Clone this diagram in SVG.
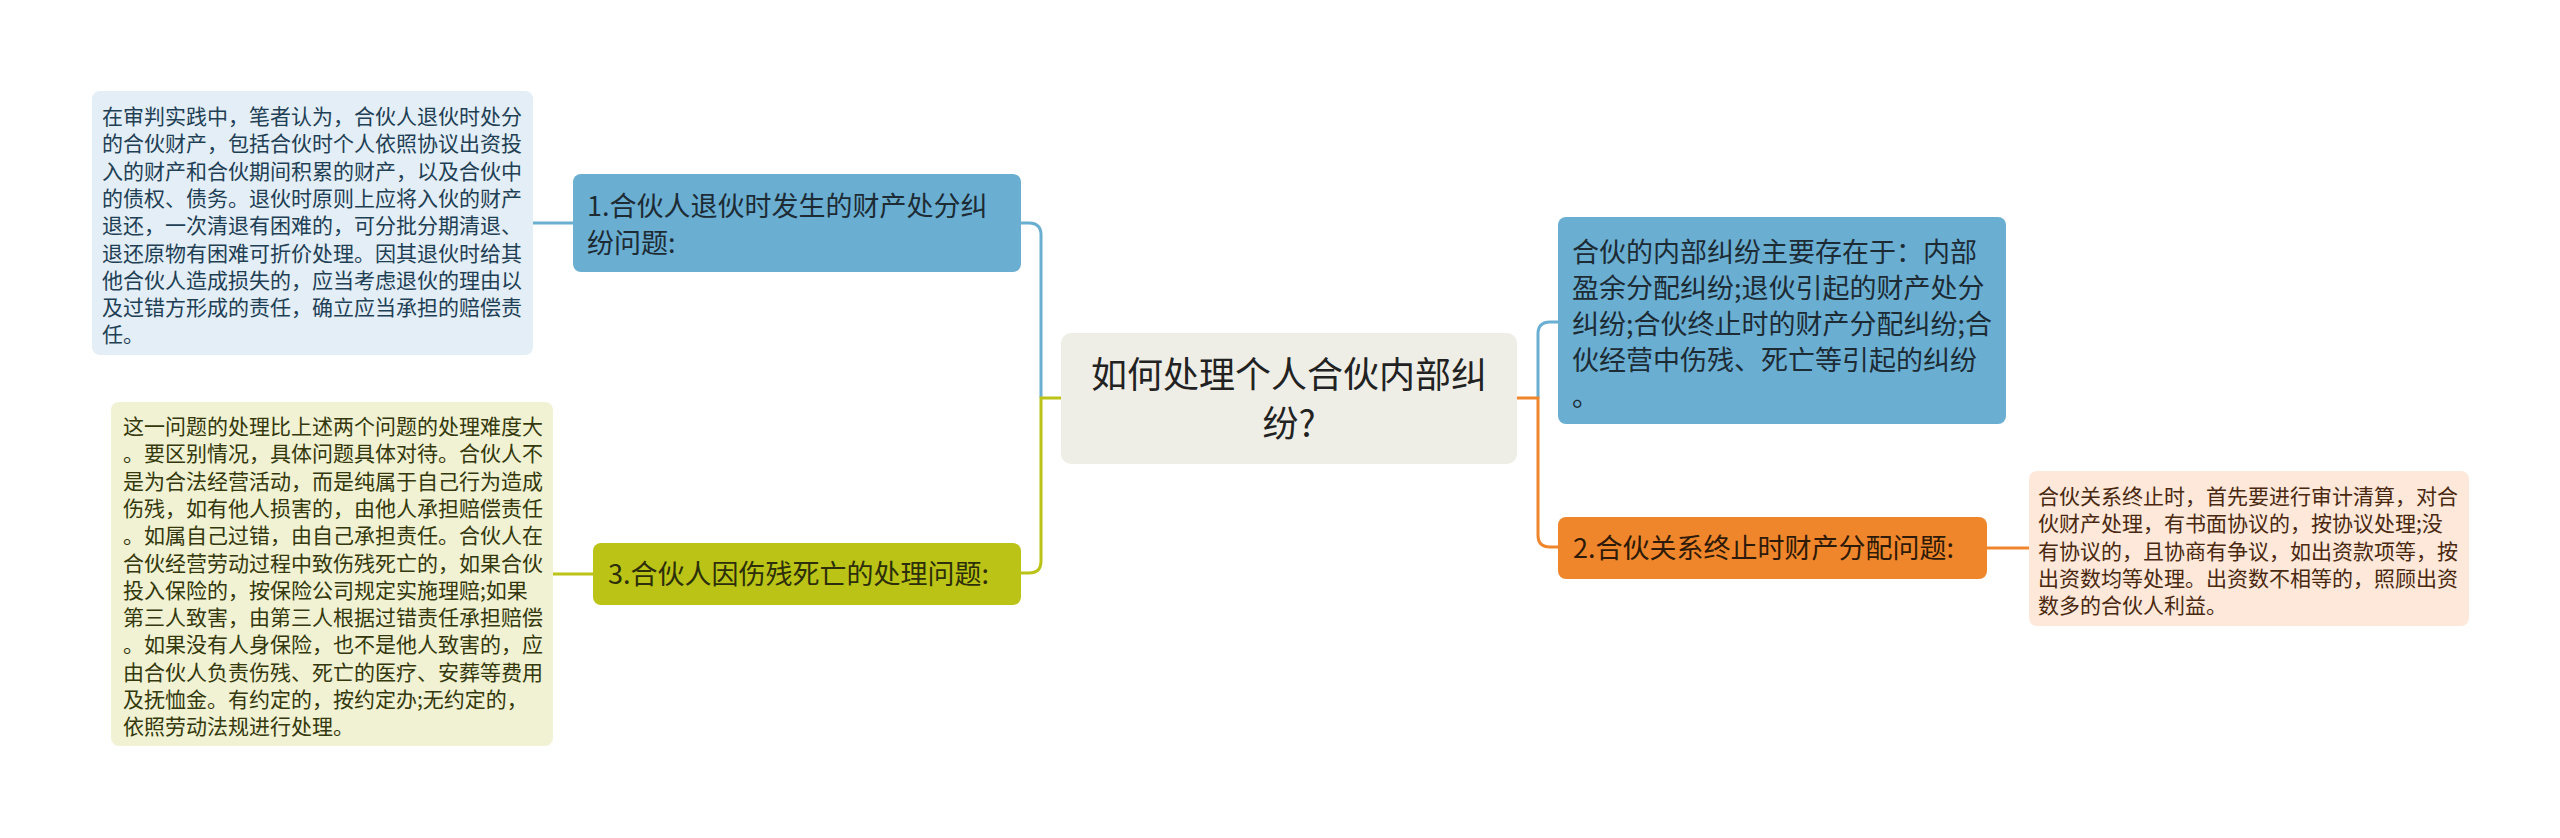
<svg xmlns="http://www.w3.org/2000/svg" width="2560" height="838" viewBox="0 0 2560 838">
<style>
text{font-family:"Noto Sans CJK SC","Noto Sans",sans-serif}
.leaf{font-size:21px}
.node{font-size:27px}
.c{fill:none;stroke-width:3;stroke-linecap:butt}
</style>
<rect width="2560" height="838" fill="#ffffff"/>
<g id="connectors">
<path class="c" stroke="#6aafd2" d="M1021,223 H1029 Q1041,223 1041,235 V398"/>
<path class="c" stroke="#bbc316" d="M1061,398 H1041 V561 Q1041,573 1029,573 H1021"/>
<path class="c" stroke="#6aafd2" d="M1538,398 V334 Q1538,322 1550,322 H1558"/>
<path class="c" stroke="#f0862b" d="M1517,398 H1538 V535 Q1538,547 1550,547 H1558"/>
<path class="c" stroke="#6aafd2" d="M573,223 H533"/>
<path class="c" stroke="#bbc316" d="M593,574 H553"/>
<path class="c" stroke="#f0862b" d="M1987,548 H2029"/>
</g>
<g id="central">
<rect x="1061" y="333" width="456" height="131" rx="10" fill="#eeeee6"/>
<text x="1289" y="388" font-size="36" text-anchor="middle" fill="#222222">如何处理个人合伙内部纠</text>
<text x="1289" y="437" font-size="36" text-anchor="middle" fill="#222222">纷?</text>
</g>
<g id="node1">
<rect x="573" y="174" width="448" height="98" rx="8" fill="#6aafd2"/>
<text class="node" x="587" y="216" fill="#1d2b35">1.合伙人退伙时发生的财产处分纠</text>
<text class="node" x="587" y="253" fill="#1d2b35">纷问题:</text>
</g>
<g id="leaf1">
<rect x="92" y="91" width="441" height="264" rx="8" fill="#e3eef6"/>
<text class="leaf" x="102" y="124" fill="#1f3f55">
<tspan x="102" dy="0">在审判实践中，笔者认为，合伙人退伙时处分</tspan>
<tspan x="102" dy="27.3">的合伙财产，包括合伙时个人依照协议出资投</tspan>
<tspan x="102" dy="27.3">入的财产和合伙期间积累的财产，以及合伙中</tspan>
<tspan x="102" dy="27.3">的债权、债务。退伙时原则上应将入伙的财产</tspan>
<tspan x="102" dy="27.3">退还，一次清退有困难的，可分批分期清退、</tspan>
<tspan x="102" dy="27.3">退还原物有困难可折价处理。因其退伙时给其</tspan>
<tspan x="102" dy="27.3">他合伙人造成损失的，应当考虑退伙的理由以</tspan>
<tspan x="102" dy="27.3">及过错方形成的责任，确立应当承担的赔偿责</tspan>
<tspan x="102" dy="27.3">任。</tspan>
</text>
</g>
<g id="node3">
<rect x="593" y="543" width="428" height="62" rx="8" fill="#bbc316"/>
<text class="node" x="608" y="584" fill="#2c2f0a">3.合伙人因伤残死亡的处理问题:</text>
</g>
<g id="leaf3">
<rect x="111" y="402" width="442" height="344" rx="8" fill="#f0f2d3"/>
<text class="leaf" x="123" y="434" fill="#34380c">
<tspan x="123" dy="0">这一问题的处理比上述两个问题的处理难度大</tspan>
<tspan x="123" dy="27.3">。要区别情况，具体问题具体对待。合伙人不</tspan>
<tspan x="123" dy="27.3">是为合法经营活动，而是纯属于自己行为造成</tspan>
<tspan x="123" dy="27.3">伤残，如有他人损害的，由他人承担赔偿责任</tspan>
<tspan x="123" dy="27.3">。如属自己过错，由自己承担责任。合伙人在</tspan>
<tspan x="123" dy="27.3">合伙经营劳动过程中致伤残死亡的，如果合伙</tspan>
<tspan x="123" dy="27.3">投入保险的，按保险公司规定实施理赔;如果</tspan>
<tspan x="123" dy="27.3">第三人致害，由第三人根据过错责任承担赔偿</tspan>
<tspan x="123" dy="27.3">。如果没有人身保险，也不是他人致害的，应</tspan>
<tspan x="123" dy="27.3">由合伙人负责伤残、死亡的医疗、安葬等费用</tspan>
<tspan x="123" dy="27.3">及抚恤金。有约定的，按约定办;无约定的，</tspan>
<tspan x="123" dy="27.3">依照劳动法规进行处理。</tspan>
</text>
</g>
<g id="nodeR1">
<rect x="1558" y="217" width="448" height="207" rx="8" fill="#6aafd2"/>
<text class="node" x="1572" y="262" fill="#1d2b35">
<tspan x="1572" dy="0">合伙的内部纠纷主要存在于：内部</tspan>
<tspan x="1572" dy="36.1">盈余分配纠纷;退伙引起的财产处分</tspan>
<tspan x="1572" dy="36.1">纠纷;合伙终止时的财产分配纠纷;合</tspan>
<tspan x="1572" dy="36.1">伙经营中伤残、死亡等引起的纠纷</tspan>
<tspan x="1572" dy="36.1">。</tspan>
</text>
</g>
<g id="nodeR2">
<rect x="1558" y="517" width="429" height="62" rx="8" fill="#f0862b"/>
<text class="node" x="1573" y="558" fill="#2e1a08">2.合伙关系终止时财产分配问题:</text>
</g>
<g id="leafR2">
<rect x="2029" y="471" width="440" height="155" rx="8" fill="#fde8da"/>
<text class="leaf" x="2038" y="504" fill="#4a2810">
<tspan x="2038" dy="0">合伙关系终止时，首先要进行审计清算，对合</tspan>
<tspan x="2038" dy="27.3">伙财产处理，有书面协议的，按协议处理;没</tspan>
<tspan x="2038" dy="27.3">有协议的，且协商有争议，如出资款项等，按</tspan>
<tspan x="2038" dy="27.3">出资数均等处理。出资数不相等的，照顾出资</tspan>
<tspan x="2038" dy="27.3">数多的合伙人利益。</tspan>
</text>
</g>
</svg>
